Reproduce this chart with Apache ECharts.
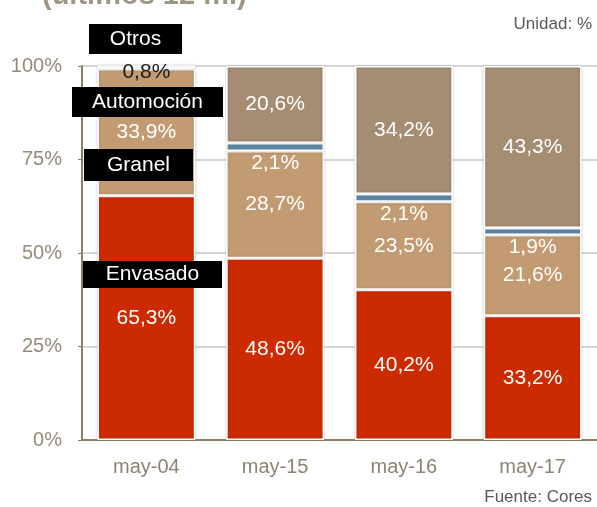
<!DOCTYPE html>
<html>
<head>
<meta charset="utf-8">
<script src="https://cdn.jsdelivr.net/npm/echarts@6/dist/echarts.min.js"></script>
<style>
  html, body { margin: 0; padding: 0; background: #fff; }
  #chart { width: 597px; height: 507px; }
</style>
</head>
<body>
<div id="chart"></div>
<script>
// categorías y cuotas (%)
const categories = ['may-04', 'may-15', 'may-16', 'may-17'];
const envasado = [65.3, 48.6, 40.2, 33.2];
const granel = [33.9, 28.7, 23.5, 21.6];
const automocion = [0.8, 2.1, 2.1, 1.9];
const otros = [0, 20.6, 34.2, 43.3];
const yTicks = [0, 25, 50, 75, 100];

const FONT = '"Liberation Sans", Arial, sans-serif';
const fmt = (p) => p.value ? p.value.toFixed(1).replace('.', ',') + '%' : '';

const chart = echarts.init(document.getElementById('chart'));

const barStyle = (color) => ({
  color: color,
  borderColor: '#ffffff',
  borderWidth: 1.5,
  shadowColor: 'rgba(0,0,0,0.18)',
  shadowBlur: 3
});

const insideLabel = {
  show: true,
  position: 'inside',
  color: '#ffffff',
  fontFamily: FONT,
  fontSize: 21,
  formatter: fmt
};

// etiqueta negra sobre la primera barra
const tag = (text, x, y, w, h) => ({
  type: 'group',
  z: 100,
  children: [
    {
      type: 'rect',
      shape: {x: x, y: y, width: w, height: h},
      style: {fill: '#000000'},
      z: 100
    },
    {
      type: 'text',
      x: x + w / 2,
      y: y + h / 2,
      z: 101,
      style: {
        text: text,
        fill: '#ffffff',
        font: '21px ' + FONT,
        align: 'center',
        verticalAlign: 'middle'
      }
    }
  ]
});

const option = {
  backgroundColor: '#ffffff',
  animation: false,
  title: [
    {
      text: '(últimos 12 m.)',
      left: 37,
      top: -24,
      textStyle: {color: '#9e9784', fontSize: 29, fontWeight: 'bold', fontFamily: FONT}
    },
    {
      text: 'Unidad: %',
      right: 0,
      top: 11,
      textStyle: {color: '#595959', fontSize: 17, fontWeight: 'normal', fontFamily: FONT}
    },
    {
      text: 'Fuente: Cores',
      right: 0,
      bottom: -4,
      textStyle: {color: '#595959', fontSize: 17, fontWeight: 'normal', fontFamily: FONT}
    }
  ],
  grid: {left: 82, right: -3, top: 66, bottom: 67},
  xAxis: {
    type: 'category',
    data: categories,
    axisLine: {show: true, lineStyle: {color: '#8b7f69', width: 2}},
    axisTick: {show: false},
    axisLabel: {color: '#8c8473', fontSize: 20, fontFamily: FONT, margin: 17}
  },
  yAxis: {
    type: 'value',
    min: yTicks[0],
    max: yTicks[yTicks.length - 1],
    interval: 25,
    axisLine: {show: true, lineStyle: {color: '#8b7f69', width: 2}},
    axisTick: {show: true, length: 4, lineStyle: {color: '#8b7f69'}},
    axisLabel: {color: '#958b7a', fontSize: 20, fontFamily: FONT, margin: 20, formatter: '{value}%'},
    splitLine: {show: true, lineStyle: {color: '#c8c8c8', width: 1.5}}
  },
  series: [
    {
      name: 'Envasado',
      type: 'bar',
      stack: 'total',
      barWidth: '76%',
      itemStyle: barStyle('#cc2a00'),
      label: insideLabel,
      data: envasado
    },
    {
      name: 'Granel',
      type: 'bar',
      stack: 'total',
      itemStyle: barStyle('#c39b72'),
      label: insideLabel,
      data: granel
    },
    {
      name: 'Automoción',
      type: 'bar',
      stack: 'total',
      itemStyle: barStyle('#5f89a8'),
      label: Object.assign({}, insideLabel, {position: 'bottom', distance: 2}),
      data: automocion.map((v, i) => i === 0
        ? {value: v, label: {color: '#1a1a1a', offset: [0, -9]}}
        : v)
    },
    {
      name: 'Otros',
      type: 'bar',
      stack: 'total',
      itemStyle: barStyle('#a58d73'),
      label: insideLabel,
      data: otros
    }
  ],
  graphic: [
    tag('Otros', 89, 24, 93, 30),
    tag('Automoción', 72, 87, 151, 30),
    tag('Granel', 84, 149, 109, 32),
    tag('Envasado', 83, 261, 139, 27)
  ]
};

chart.setOption(option);
</script>
</body>
</html>
